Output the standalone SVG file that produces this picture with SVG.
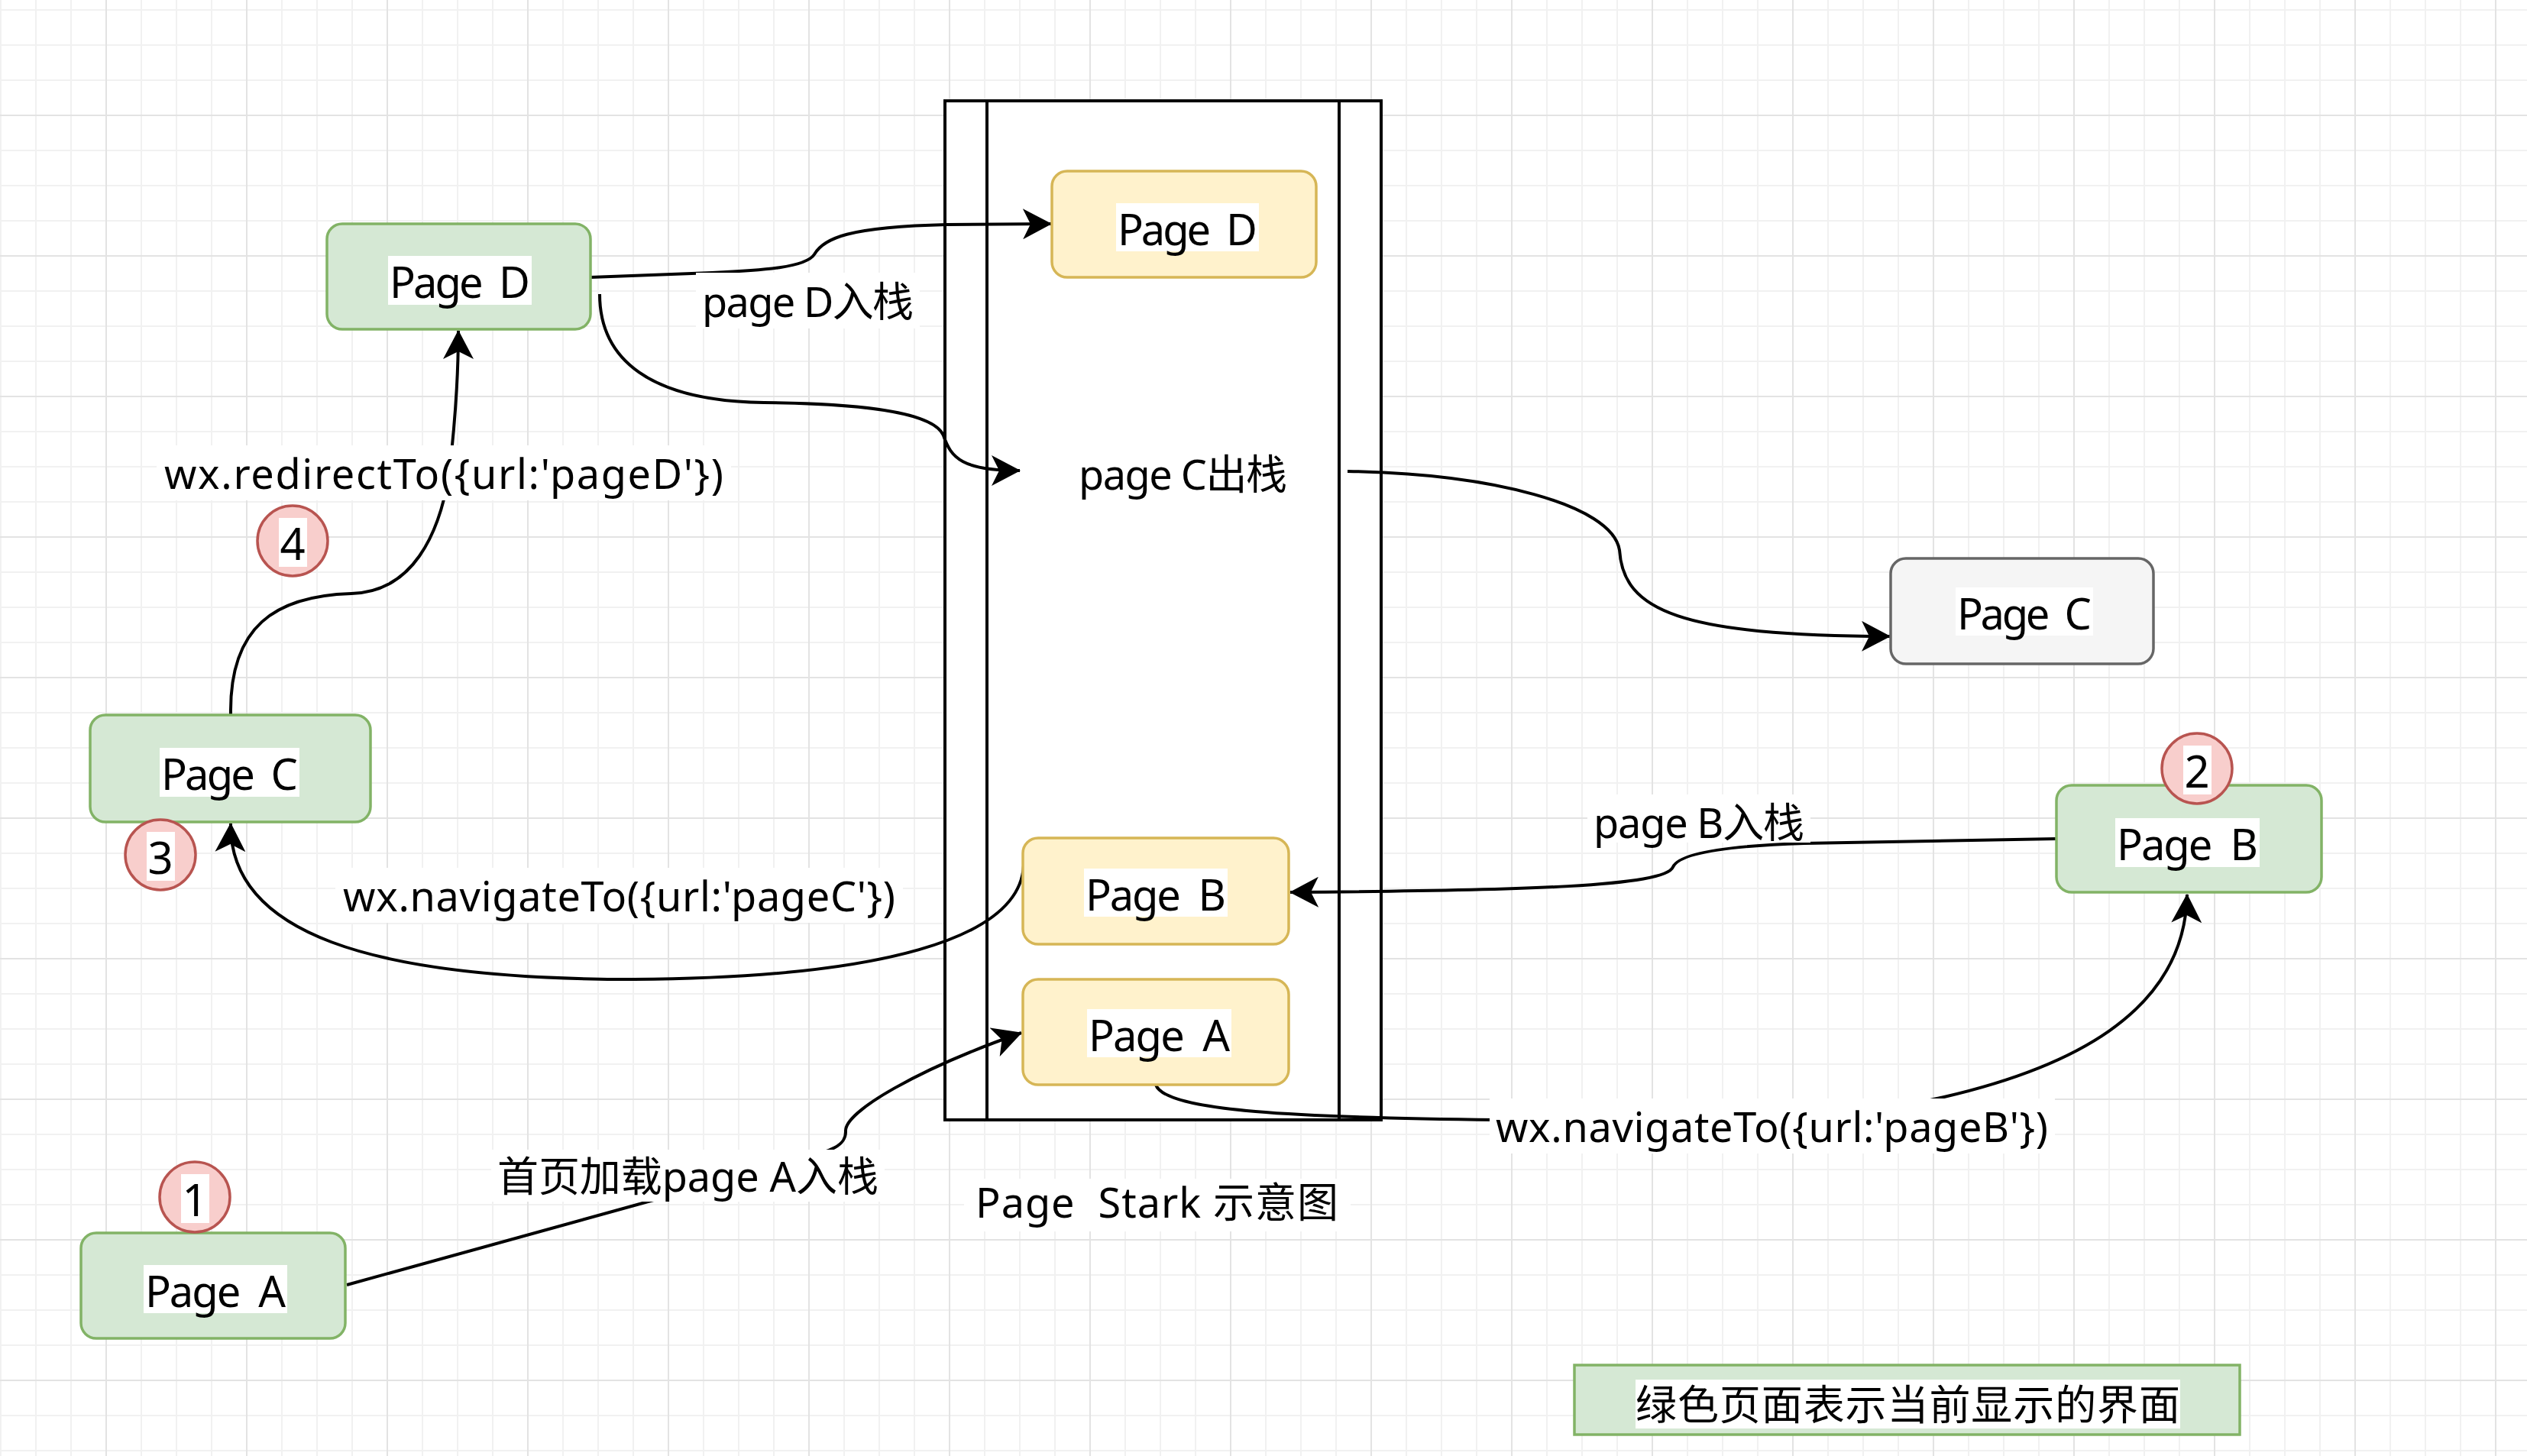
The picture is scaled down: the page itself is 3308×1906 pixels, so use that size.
<svg xmlns="http://www.w3.org/2000/svg" width="3308" height="1906" viewBox="0 0 3308 1906">
<style>
.txt{font-family:"Noto Sans","Noto Sans CJK SC",sans-serif;font-size:56px;fill:#000;white-space:pre}
.lbl{font-family:"Noto Sans","Noto Sans CJK SC",sans-serif;font-size:54px;fill:#000;white-space:pre}
.num{font-family:"Noto Sans",sans-serif;font-size:58px;fill:#000;text-anchor:middle}
.bg{fill:#ffffff}
.green{fill:#d5e8d4;stroke:#82b366;stroke-width:3.5}
.yellow{fill:#fff2cc;stroke:#d6b656;stroke-width:3.5}
.gray{fill:#f5f5f5;stroke:#666666;stroke-width:3.5}
.badge{fill:#f8cecc;stroke:#b85450;stroke-width:3.5}
.edge{fill:none;stroke:#000;stroke-width:4}
.stk{fill:#fff;stroke:#000;stroke-width:4}
</style>
<defs>
<pattern id="grid" x="138" y="150" width="184" height="184" patternUnits="userSpaceOnUse">
<path d="M47,0V184M93,0V184M139,0V184M0,47H184M0,93H184M0,139H184" stroke="#f1f1f1" stroke-width="2" fill="none"/>
<path d="M1,0V184M0,1H184" stroke="#e3e3e3" stroke-width="2" fill="none"/>
</pattern>
<marker id="arr" viewBox="0 0 38 40" refX="37" refY="20" markerWidth="38" markerHeight="40" markerUnits="userSpaceOnUse" orient="auto">
<path d="M0,0 L38,20 L0,40 L10,20 Z" fill="#000"/>
</marker>
</defs>
<rect x="0" y="0" width="3308" height="1906" fill="#ffffff"/>
<rect x="0" y="0" width="3308" height="1906" fill="url(#grid)"/>

<g id="stack">
<rect class="stk" x="1237" y="132" width="571" height="1334"/>
<line class="stk" x1="1292" y1="132" x2="1292" y2="1466"/>
<line class="stk" x1="1753" y1="132" x2="1753" y2="1466"/>
</g>

<g id="connectors">
<path class="edge" marker-end="url(#arr)" d="M454,1682 L1040,1520 C1090,1506 1108,1500 1107,1480 C1107,1455 1200,1400 1337,1352"/>
<path class="edge" marker-end="url(#arr)" d="M1513,1420 C1525,1455 1700,1463 1960,1466 L2400,1462 C2470,1455 2500,1446 2545,1436 C2700,1400 2860,1330 2863,1171"/>
<path class="edge" marker-end="url(#arr)" d="M2692,1098 L2362,1104 C2300,1106 2200,1112 2190,1135 C2180,1160 2000,1166 1689,1168"/>
<path class="edge" marker-end="url(#arr)" d="M1340,1133 C1335,1230 1150,1280 830,1282 C480,1282 300,1220 302,1078"/>
<path class="edge" marker-end="url(#arr)" d="M302,936 C300,820 360,780 460,777 C540,775 575,700 588,620 C595,560 600,500 600,433"/>
<path class="edge" marker-end="url(#arr)" d="M773,363 L932,357 C1000,354 1055,350 1066,333 C1078,312 1110,297 1240,294 L1376,293"/>
<path class="edge" marker-end="url(#arr)" d="M785,385 C785,470 850,525 1000,527 C1100,528 1220,535 1235,570 C1245,600 1260,616 1335,616"/>
<path class="edge" marker-end="url(#arr)" d="M1764,617 C1950,620 2110,660 2120,720 C2125,800 2200,832 2474,833"/>
</g>

<g id="edge-labels">
<rect class="bg" x="205" y="583" width="752" height="72"/>
<text class="lbl" x="215" y="640" textLength="732">wx.redirectTo({url:'pageD'})</text>
<rect class="bg" x="439" y="1136" width="743" height="72"/>
<text class="lbl" x="449" y="1193" textLength="723">wx.navigateTo({url:'pageC'})</text>
<rect class="bg" x="1950" y="1438" width="740" height="72"/>
<text class="lbl" x="1958" y="1495" textLength="723">wx.navigateTo({url:'pageB'})</text>
<rect class="bg" x="643" y="1505" width="515" height="68"/>
<text class="lbl" x="651" y="1560" textLength="499">首页加载page A入栈</text>
<rect class="bg" x="911" y="357" width="293" height="73"/>
<text class="lbl" x="919" y="415" textLength="277">page D入栈</text>
<rect class="bg" x="2078" y="1040" width="292" height="63"/>
<text class="lbl" x="2086" y="1097" textLength="276">page B入栈</text>
</g>

<g id="node-stack-pageD">
<rect class="yellow" x="1377" y="224" width="346" height="139" rx="20"/>
<rect class="bg" x="1461" y="266" width="187" height="63"/>
<text class="txt" x="1463" y="321" textLength="183">Page  D</text>
</g>
<g id="node-stack-pageC-out">
<text class="lbl" x="1412" y="641" textLength="273">page C出栈</text>
</g>
<g id="node-stack-pageB">
<rect class="yellow" x="1339" y="1097" width="348" height="139" rx="20"/>
<rect class="bg" x="1419" y="1137" width="188" height="63"/>
<text class="txt" x="1421" y="1192" textLength="184">Page  B</text>
</g>
<g id="node-stack-pageA">
<rect class="yellow" x="1339" y="1282" width="348" height="138" rx="20"/>
<rect class="bg" x="1423" y="1321" width="189" height="63"/>
<text class="txt" x="1425" y="1376" textLength="185">Page  A</text>
</g>
<g id="stack-title">
<rect class="bg" x="1262" y="1543" width="506" height="69"/>
<text class="lbl" x="1277" y="1594" textLength="475">Page  Stark 示意图</text>
</g>

<g id="node-pageD">
<rect class="green" x="428" y="293" width="345" height="138" rx="20"/>
<rect class="bg" x="508" y="335" width="188" height="64"/>
<text class="txt" x="510" y="390" textLength="184">Page  D</text>
</g>
<g id="node-pageC">
<rect class="green" x="118" y="936" width="367" height="140" rx="20"/>
<rect class="bg" x="209" y="979" width="183" height="64"/>
<text class="txt" x="211" y="1034" textLength="179">Page  C</text>
</g>
<g id="node-pageA">
<rect class="green" x="106" y="1614" width="346" height="138" rx="20"/>
<rect class="bg" x="188" y="1656" width="188" height="63"/>
<text class="txt" x="190" y="1711" textLength="184">Page  A</text>
</g>
<g id="node-pageB">
<rect class="green" x="2692" y="1028" width="347" height="140" rx="20"/>
<rect class="bg" x="2769" y="1071" width="189" height="64"/>
<text class="txt" x="2771" y="1126" textLength="185">Page  B</text>
</g>
<g id="node-pageC-popped">
<rect class="gray" x="2475" y="731" width="344" height="138" rx="20"/>
<rect class="bg" x="2560" y="769" width="180" height="63"/>
<text class="txt" x="2562" y="824" textLength="176">Page  C</text>
</g>

<g id="badge-1">
<ellipse class="badge" cx="255" cy="1567" rx="46" ry="46"/>
<rect class="bg" x="237" y="1537" width="37" height="64"/>
<text class="num" x="255" y="1592">1</text>
</g>
<g id="badge-2">
<ellipse class="badge" cx="2876" cy="1006" rx="46" ry="46"/>
<rect class="bg" x="2858" y="976" width="37" height="64"/>
<text class="num" x="2876" y="1031">2</text>
</g>
<g id="badge-3">
<ellipse class="badge" cx="210" cy="1119" rx="46" ry="46"/>
<rect class="bg" x="192" y="1089" width="37" height="64"/>
<text class="num" x="210" y="1144">3</text>
</g>
<g id="badge-4">
<ellipse class="badge" cx="383" cy="708" rx="46" ry="46"/>
<rect class="bg" x="365" y="678" width="37" height="64"/>
<text class="num" x="383" y="733">4</text>
</g>

<g id="legend">
<rect class="green" x="2061" y="1787" width="871" height="91"/>
<rect class="bg" x="2141" y="1806" width="713" height="64"/>
<text class="lbl" x="2141" y="1859" textLength="713">绿色页面表示当前显示的界面</text>
</g>
</svg>
